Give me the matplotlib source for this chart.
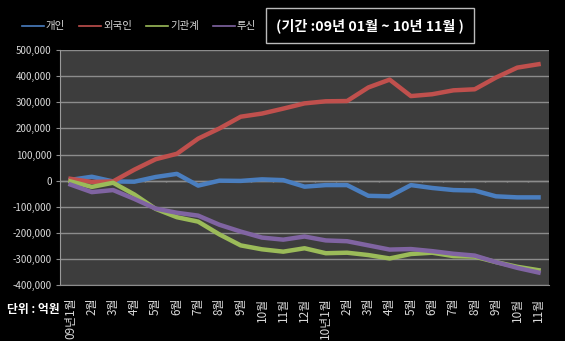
import matplotlib
matplotlib.use("Agg")
import matplotlib.pyplot as plt
import numpy as np

plt.rcParams['font.family'] = ['Noto Sans CJK KR', 'DejaVu Sans']

months = ["09년1월"] + [f"{m}월" for m in range(2, 13)] + ["10년1월"] + [f"{m}월" for m in range(2, 12)]
series_names = ["개인", "외국인", "기관계", "투신"]
individual = [3000, 15000, -3000, -4000, 14000, 26000, -19000, 0, -1000, 5000, 2000, -23000,
              -17000, -17000, -58000, -60000, -17000, -28000, -36000, -38000, -60000, -64000, -64000]
foreign = [7000, -5000, -3000, 42000, 82000, 103000, 161000, 200000, 245000, 257000, 276000, 296000,
           304000, 305000, 357000, 387000, 324000, 331000, 346000, 350000, 395000, 433000, 446000]
institution = [-3000, -24000, -8000, -53000, -108000, -140000, -157000, -206000, -248000, -263000, -272000, -259000,
               -278000, -276000, -285000, -298000, -281000, -276000, -289000, -291000, -312000, -330000, -343000]
trust = [-15000, -44000, -36000, -70000, -107000, -123000, -134000, -169000, -195000, -218000, -226000, -214000,
         -229000, -232000, -248000, -264000, -262000, -270000, -280000, -287000, -312000, -334000, -352000]
yticks = [500000, 400000, 300000, 200000, 100000, 0, -100000, -200000, -300000, -400000]
title_text = "(기간 :09년 01월 ~ 10년 11월 )"
unit_text = "단위 : 억원"

colors = ["#4a7ebf", "#c0504d", "#9bbb59", "#8064a2"]

fig = plt.figure(figsize=(5.65, 3.41), dpi=100, facecolor="black")
ax = fig.add_axes([0.106, 0.164, 0.866, 0.689])
ax.set_facecolor("#3d3d3d")

x = np.arange(len(months))
for name, vals, c in zip(series_names, [individual, foreign, institution, trust], colors):
    ax.plot(x, vals, color=c, lw=3.2, label=name, solid_joinstyle="round", zorder=3)

ax.set_xlim(-0.5, len(months) - 0.5)
ax.set_ylim(-400000, 500000)
ax.set_yticks(yticks)
ax.set_yticklabels([f"{v:,}" for v in yticks])
ax.yaxis.grid(True, color="#8c8c8c", lw=1)
ax.set_axisbelow(True)

# category axis ticks at zero line
ax.axhline(0, color="#8c8c8c", lw=1, zorder=1)
ax.vlines(x[:-1] + 0.5, -7000, 0, color="#8c8c8c", lw=1, zorder=1)

ax.set_xticks(x)
ax.set_xticklabels(months, rotation=90, fontsize=8.5, color="#d8d8d8")
ax.tick_params(axis="x", length=0, pad=9)
ax.tick_params(axis="y", length=3, color="#8c8c8c", labelsize=7, labelcolor="#d8d8d8", pad=3)

for s in ["top", "right"]:
    ax.spines[s].set_visible(False)
ax.spines["left"].set_color("#9a9a9a")
ax.spines["bottom"].set_color("#8c8c8c")

leg = fig.legend(loc="upper left", bbox_to_anchor=(0.022, 0.965), ncol=4, frameon=False,
                 fontsize=7.5, handlelength=2.1, handletextpad=0.2, columnspacing=1.35)
for t in leg.get_texts():
    t.set_color("#d8d8d8")
for h in leg.get_lines():
    h.set_linewidth(1.2)

fig.text(0.489, 0.925, title_text, fontsize=10.2, fontweight="bold", color="white", va="center", ha="left",
         bbox=dict(boxstyle="square,pad=0.7", facecolor="black", edgecolor="#bbbbbb", lw=1))

fig.text(0.012, 0.093, unit_text, fontsize=8.5, fontweight="bold", color="white", va="center", ha="left")

fig.savefig("out.png", dpi=100, facecolor="black")
